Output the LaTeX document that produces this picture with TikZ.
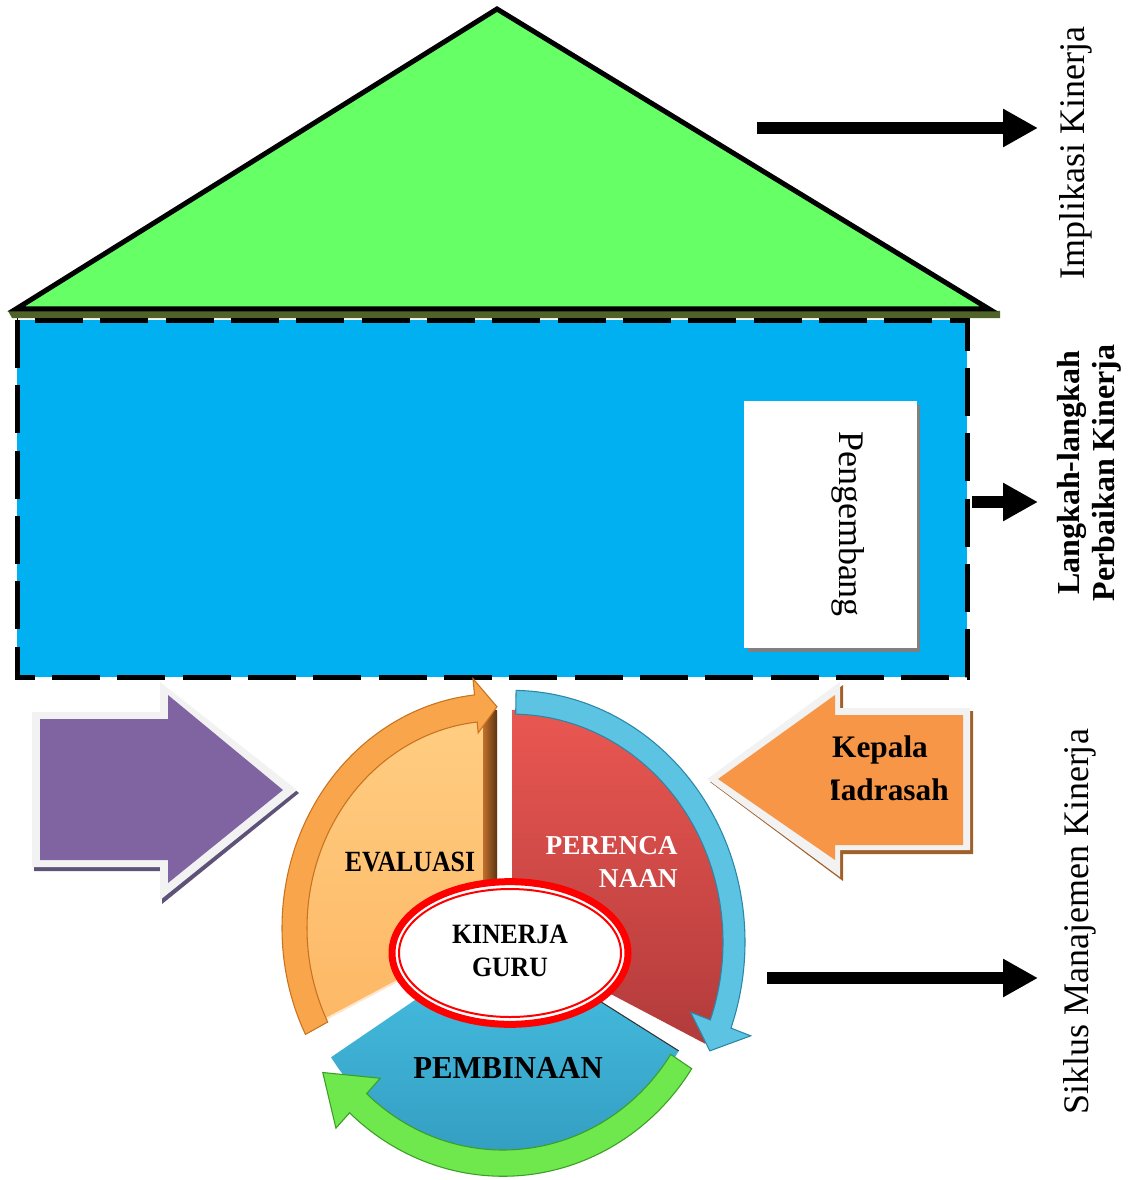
\documentclass[tikz,border=0pt]{standalone}
\usepackage{fontspec}
\setmainfont{Liberation Serif}
\usetikzlibrary{arrows.meta,shapes.geometric}
\definecolor{roofgreen}{HTML}{66FF66}
\definecolor{roofshadow}{HTML}{4F6228}
\definecolor{sky}{HTML}{00B0F0}
\definecolor{purp}{HTML}{8064A2}
\definecolor{purpshadow}{HTML}{5E5278}
\definecolor{orng}{HTML}{F79646}
\definecolor{orngshadow}{HTML}{A0602A}
\definecolor{wborder}{HTML}{F2F2F2}
\definecolor{boxshadow}{HTML}{808080}
\definecolor{redtop}{HTML}{EA5752}
\definecolor{redbot}{HTML}{B23B3B}
\definecolor{bluetop}{HTML}{48C1E4}
\definecolor{bluebot}{HTML}{3099BD}
\definecolor{ringblue}{HTML}{5CC3E3}
\definecolor{ringblueedge}{HTML}{2A87A6}
\definecolor{ringgreen}{HTML}{6EE84C}
\definecolor{ringgreenedge}{HTML}{3C9E26}
\definecolor{ringorange}{HTML}{F9A54C}
\definecolor{ringorangeedge}{HTML}{C9731F}
\definecolor{orangetop}{HTML}{FFCD82}
\definecolor{orangebot}{HTML}{FDB865}
\definecolor{browndark}{HTML}{5C3412}
\definecolor{brownlight}{HTML}{C0702C}
% #1 style, #2 start angle, #3 head base angle, #4 tip angle,
% #5 inner r, #6 outer r, #7 wing inner r, #8 wing outer r, #9 tip r
\newcommand\ringarrow[9]{%
  \path[#1] (#2:#6) arc[start angle=#2, end angle=#3, radius=#6]
    -- (#3:#8) -- (#4:#9) -- (#3:#7) -- (#3:#5)
    arc[start angle=#3, end angle=#2, radius=#5] -- cycle;}
\begin{document}
\begin{tikzpicture}[x=0.75pt,y=-0.75pt,
  roof/.style={fill=roofgreen,draw=black,line width=3.75pt,line join=miter},
  bodyrect/.style={fill=sky,draw=black,line width=3.75pt,dash pattern=on 36pt off 13pt},
  sidetext/.style={inner sep=0pt,font=\fontsize{27}{30}\selectfont},
  sidebold/.style={inner sep=0pt,align=center,font=\bfseries\fontsize{24}{26}\selectfont},
  bigarrow/.style={line width=9pt,-{Triangle[length=26.25pt,width=27pt]}},
  bluering/.style={fill=ringblue,draw=ringblueedge,line width=0.8pt},
  greenring/.style={fill=ringgreen,draw=ringgreenedge,line width=0.8pt},
  orangering/.style={fill=ringorange,draw=ringorangeedge,line width=0.8pt},
  cyctext/.style={inner sep=0pt,font=\bfseries}]
\fill[white] (0,0) rectangle (1138,1180);
\useasboundingbox (0,0) rectangle (1138,1180);

% roof
\fill[roofshadow] (8,311) -- (1000,311) -- (1000,318) -- (12,318) -- cycle;
\draw[roof] (497,9) -- (989,309) -- (16,309) -- cycle;

% body
\draw[bodyrect] (17,320) rectangle (967,677);

% Pengembang box
\fill[boxshadow] (748,405) rectangle (920,652);
\node[fill=white,minimum width=129.75pt,minimum height=185.25pt,inner sep=0pt,anchor=north west] (pbox) at (744,401) {};
\node[sidetext,rotate=-90] (pengembang) at (848,524) {Pengembang};

% right arrows
\coordinate (a1s) at (757,128); \coordinate (a1e) at (1038,128);
\coordinate (a2s) at (972,502); \coordinate (a2e) at (1038,502);
\coordinate (a3s) at (767,978); \coordinate (a3e) at (1038,978);
\draw[bigarrow] (a1s) -- (a1e);
\draw[bigarrow] (a2s) -- (a2e);
\draw[bigarrow] (a3s) -- (a3e);

% right labels
\node[sidetext,rotate=90] (impl) at (1076,153) {Implikasi Kinerja};
\node[sidebold,rotate=90] (langkah) at (1089,473) {Langkah-langkah\\Perbaikan Kinerja};
\node[sidetext,rotate=90] (siklus) at (1080,922) {Siklus Manajemen Kinerja};

% purple block arrow
\fill[purpshadow] (34,715) -- (162,715) -- (162,685) -- (299,793) -- (162,904) -- (162,871) -- (34,871) -- cycle;
\fill[wborder] (32,712) -- (160,712) -- (160,682) -- (297,790) -- (160,900) -- (160,867) -- (32,867) -- cycle;
\fill[purp] (40,719) -- (168,719) -- (168,695) -- (283,790) -- (168,883) -- (168,860) -- (40,860) -- cycle;

% orange block arrow
\fill[orngshadow] (973,711) -- (843,711) -- (843,685) -- (710,782) -- (843,881) -- (843,854) -- (973,854) -- cycle;
\fill[wborder] (970,708) -- (840,708) -- (840,682) -- (707,779) -- (840,877) -- (840,850) -- (970,850) -- cycle;
\fill[orng] (963,715) -- (835,715) -- (835,695) -- (718,779) -- (835,860) -- (835,845) -- (963,845) -- cycle;
\begin{scope}
  \clip (831,700) rectangle (965,845);
  \node[cyctext,anchor=base,font=\bfseries\fontsize{23.5}{26}\selectfont] (kepala) at (880,757) {Kepala};
  \node[cyctext,anchor=base,font=\bfseries\fontsize{23.5}{26}\selectfont] (madrasah) at (880,800) {Madrasah};
\end{scope}

% ---- cycle ----
% orange segment (EVALUASI)
\begin{scope}[shift={(497,928)},yscale=1.09]
  \path[top color=orangetop,bottom color=orangebot] (0,0) -- (-90:195) arc[start angle=-90,end angle=-206,radius=195] -- cycle;
  \draw[white!80!orange,line width=1.5pt] (-206:70) -- (-206:192);
  \path[left color=brownlight,right color=browndark] (-14,-200) rectangle (0,-20);
  \ringarrow{orangering}{-207}{-96}{-90}{190}{215}{180}{230}{203}
\end{scope}
% red segment (PERENCANAAN)
\begin{scope}[shift={(512,942)},yscale=1.08]
  \path[top color=redtop,bottom color=redbot] (0,0) -- (-90:215) arc[start angle=-90,end angle=26,radius=215] -- cycle;
  \ringarrow{bluering}{-89}{20}{27}{211}{233}{190}{254}{222}
\end{scope}
% blue segment (PEMBINAAN)
\begin{scope}[shift={(503,940)},yscale=1.05]
  \path[top color=bluetop,bottom color=bluebot] (0,0) -- (31:205) arc[start angle=31,end angle=147,radius=205] -- cycle;
  \draw[black!80,line width=0.8pt] (31:110) -- (31:205);
  \ringarrow{greenring}{33}{133}{145}{200}{225}{180}{245}{220}
\end{scope}

% centre ellipse
\node[ellipse,draw=red,line width=5.25pt,fill=white,minimum width=177pt,minimum height=107pt,inner sep=0pt] (kinerja) at (510,953) {};
\draw[red,line width=1.5pt] (kinerja.center) ellipse[x radius=111,y radius=64];
\node[cyctext,align=center,xscale=0.92,font=\bfseries\fontsize{21}{24.75}\selectfont] (kg) at (510,951) {KINERJA\\GURU};

\node[cyctext,xscale=0.88,font=\bfseries\fontsize{22}{24}\selectfont] (evaluasi) at (410,862) {EVALUASI};
\node[cyctext,align=right,anchor=east,text=white,font=\bfseries\fontsize{20.5}{24.75}\selectfont] (perencanaan) at (678,862) {PERENCA\\NAAN};
\node[cyctext,xscale=0.96,font=\bfseries\fontsize{24}{26}\selectfont] (pembinaan) at (508,1068) {PEMBINAAN};
\end{tikzpicture}
\end{document}
